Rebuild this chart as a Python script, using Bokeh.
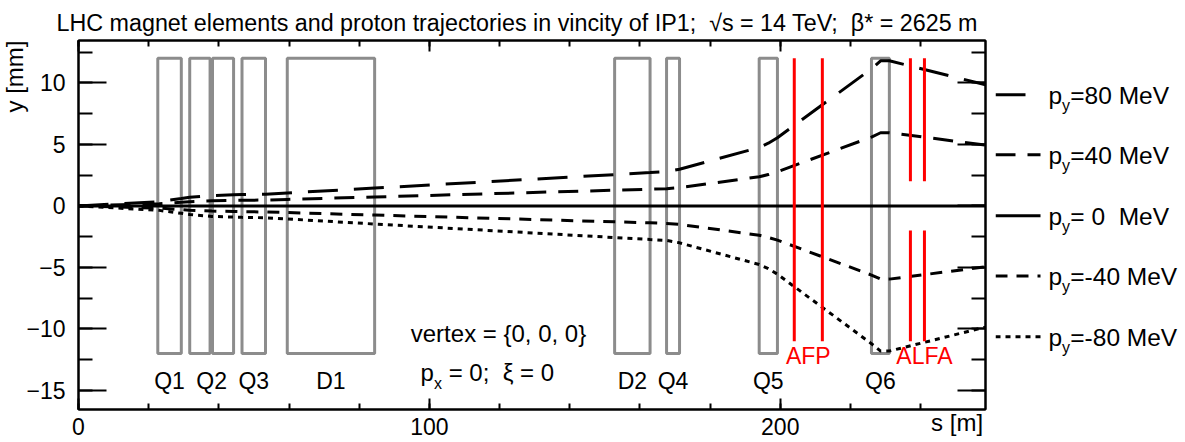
from bokeh.plotting import figure
from bokeh.models import (Range1d, SingleIntervalTicker, FixedTicker, LinearAxis, ColumnDataSource,
                          Title, CustomJSTickFormatter)
from bokeh.layouts import row
from bokeh.embed import file_html
from bokeh.resources import INLINE
from bokeh.core.properties import value

# ---------------- data ----------------
s_m = [0.0, 23.0, 29.3, 31.7, 38.0, 44.2, 46.6, 53.3, 59.5, 84.4, 152.8, 162.9,
       167.6, 171.3, 194.0, 196.6, 199.2, 226.0, 228.6, 231.1, 258.5]
y_p80 = [0.0, 0.35, 0.60, 0.70, 0.84, 0.90, 0.92, 0.95, 1.05, 1.45, 2.55, 2.71,
         2.79, 2.98, 4.75, 5.10, 5.55, 11.15, 11.80, 11.80, 9.85]
y_p40 = [0.0, 0.18, 0.30, 0.35, 0.42, 0.45, 0.46, 0.48, 0.53, 0.73, 1.28, 1.36,
         1.40, 1.49, 2.37, 2.55, 2.78, 5.60, 5.95, 5.95, 4.95]
y_p0 = [0.0, 0.0, 0.0, 0.0, 0.0, 0.0, 0.0, 0.0, 0.0, 0.0, 0.0, 0.0,
        0.0, 0.0, 0.0, 0.0, 0.0, 0.0, 0.0, 0.0, 0.0]
y_m40 = [0.0, -0.18, -0.30, -0.35, -0.42, -0.45, -0.47, -0.49, -0.54, -0.74, -1.29, -1.37,
         -1.42, -1.50, -2.38, -2.56, -2.78, -5.62, -5.95, -5.95, -4.95]
y_m80 = [0.0, -0.36, -0.60, -0.70, -0.85, -0.91, -0.93, -0.96, -1.06, -1.47, -2.57, -2.73,
         -2.80, -3.00, -4.76, -5.10, -5.55, -11.20, -11.80, -11.80, -9.85]

NB = "\u00a0"
legend_values = ["=80 MeV", "=40 MeV", "= 0 " + NB + "MeV", "=-40 MeV", "=-80 MeV"]

magnet_names = ["Q1", "Q2", "Q2", "Q3", "D1", "D2", "Q4", "Q5", "Q6"]
magnet_start = [22.6, 31.7, 38.2, 46.6, 59.5, 152.8, 167.6, 194.0, 226.0]
magnet_end = [29.3, 37.5, 44.2, 53.3, 84.4, 162.9, 171.3, 199.2, 231.1]
magnet_top = [12.0, 12.0, 12.0, 12.0, 12.0, 12.0, 12.0, 12.0, 12.0]
magnet_bottom = [-12.0, -12.0, -12.0, -12.0, -12.0, -12.0, -12.0, -12.0, -12.0]

station_names = ["AFP", "ALFA"]
det_s = [204.0, 212.0, 237.1, 241.1, 237.1, 241.1]
det_y0 = [-11.0, -11.0, 2.0, 2.0, -11.0, -11.0]
det_y1 = [12.0, 12.0, 12.0, 12.0, -2.0, -2.0]

x_ticks_interval = 100
y_ticks_interval = 5

TITLE = ("LHC magnet elements and proton trajectories in vincity of IP1; " + NB +
         "\u221as = 14 TeV; " + NB + "\u03b2* = 2625 m")
X_TITLE = "s [m]"
X_TITLE_AT = 250.4   # centre of the right-aligned x title, in s units
Y_TITLE = "y [mm]"

# ---------------- styles ----------------
FONT = "Liberation Sans"
GRAY = "#8c8c8c"
series = [(y_p80, "30 16"), (y_p40, "20 12"), (y_p0, "solid"), (y_m40, "12 9"), (y_m80, "5 5")]

H = 442
p = figure(width=995, height=H, x_range=Range1d(0, 258.5), y_range=Range1d(-16.55, 13.45),
           output_backend="svg", toolbar_location=None,
           x_axis_location=None, y_axis_location=None,
           min_border_left=78, min_border_right=10, min_border_top=40, min_border_bottom=33)
p.grid.visible = False
p.outline_line_color = "black"
p.outline_line_width = 2
p.background_fill_color = "white"
p.border_fill_color = "white"


def make_axis(ticker, tick_in, minor_in, labels, standoff=0):
    ax = LinearAxis(ticker=ticker,
                    major_tick_in=tick_in, major_tick_out=0,
                    minor_tick_in=minor_in, minor_tick_out=0,
                    axis_line_width=2, axis_line_color="black",
                    major_tick_line_width=2, minor_tick_line_width=2,
                    major_tick_line_color="black", minor_tick_line_color="black")
    if labels:
        ax.major_label_text_font = FONT
        ax.major_label_text_font_size = "23px"
        ax.major_label_text_color = "black"
        ax.major_label_standoff = standoff
    else:
        ax.formatter = CustomJSTickFormatter(code="return ''")
        ax.major_label_standoff = 0
    return ax


xt = lambda: SingleIntervalTicker(interval=x_ticks_interval, num_minor_ticks=5)
yt = lambda: SingleIntervalTicker(interval=y_ticks_interval, num_minor_ticks=2)
p.add_layout(make_axis(xt(), 11, 6, True, 8), "below")
p.add_layout(make_axis(xt(), 11, 6, False), "above")
p.add_layout(make_axis(yt(), 28, 14, True, 13), "left")
p.add_layout(make_axis(yt(), 28, 14, False), "right")

# x title: a label-only axis pulled up onto the tick-label row (right end of the axis)
ax_t = LinearAxis(ticker=FixedTicker(ticks=[X_TITLE_AT], minor_ticks=[]),
                  major_label_overrides={X_TITLE_AT: X_TITLE},
                  axis_line_color=None, major_tick_line_color=None, minor_tick_line_color=None,
                  major_tick_in=0, major_tick_out=0, minor_tick_in=0, minor_tick_out=0,
                  major_label_standoff=-29, major_label_text_font=FONT,
                  major_label_text_font_size="24px", major_label_text_color="black")
p.add_layout(ax_t, "below")

p.add_layout(Title(text=TITLE, align="left", offset=-22, standoff=10, text_font=FONT,
                   text_font_size="23.3px", text_font_style="normal", text_color="black"), "above")
p.add_layout(Title(text=Y_TITLE, align="right", standoff=-8, text_font=FONT,
                   text_font_size="24px", text_font_style="normal", text_color="black"), "left")

# magnets
p.quad(left=magnet_start, right=magnet_end, top=magnet_top, bottom=magnet_bottom,
       fill_color=None, line_color=GRAY, line_width=3)

# magnet labels at group centres
groups = {}
for n, a, b in zip(magnet_names, magnet_start, magnet_end):
    lo, hi = groups.get(n, (a, b))
    groups[n] = (min(lo, a), max(hi, b))
lab_src = ColumnDataSource(dict(x=[(v[0] + v[1]) / 2 for v in groups.values()],
                                text=list(groups.keys())))
p.text(x="x", y=-14.2, text="text", source=lab_src, text_font=value(FONT),
       text_font_size="23px", text_align="center", text_baseline="middle", text_color="black")

# trajectories
for ys, dash in series:
    p.line(s_m, ys, line_color="black", line_width=3, line_dash=dash)

# detector stations
p.segment(x0=det_s, y0=det_y0, x1=det_s, y1=det_y1, line_color="red", line_width=3)
st_src = ColumnDataSource(dict(x=[(det_s[0] + det_s[1]) / 2, (det_s[2] + det_s[3]) / 2 + 2.0],
                               text=station_names))
p.text(x="x", y=-12.2, text="text", source=st_src, text_font=value(FONT),
       text_font_size="23px", text_align="center", text_baseline="middle", text_color="red")

# annotation texts inside the frame
p.text(x=[94.7], y=[-10.4], text=["vertex = {0, 0, 0}"], text_font=value(FONT),
       text_font_size="24px", text_align="left", text_baseline="alphabetic")
p.text(x=[97.5], y=[-13.55], text=["p"], text_font=value(FONT),
       text_font_size="24px", text_align="left", text_baseline="alphabetic")
p.text(x=[101.3], y=[-14.4], text=["x"], text_font=value(FONT),
       text_font_size="16px", text_align="left", text_baseline="alphabetic")
p.text(x=[103.6], y=[-13.55], text=[NB + "= 0; " + NB + "\u03be = 0"], text_font=value(FONT),
       text_font_size="24px", text_align="left", text_baseline="alphabetic")

# ---------------- legend panel ----------------
LW = 190
lg = figure(width=LW, height=H, x_range=Range1d(0, LW), y_range=Range1d(H, 0),
            output_backend="svg", toolbar_location=None,
            x_axis_location=None, y_axis_location=None, min_border=0)
lg.grid.visible = False
lg.outline_line_color = None
line_y = [65, 137, 210, 282, 355]
for (ys, dash), ly in zip(series, line_y):
    lg.line([0, 45], [ly, ly], line_color="black", line_width=3, line_dash=dash)
leg_src = ColumnDataSource(dict(yb=[v + 1 for v in line_y], ys=[v + 13 for v in line_y],
                                text=legend_values, p=["p"] * 5, sub=["y"] * 5))
lg.text(x=53, y="yb", text="p", source=leg_src, text_font=value(FONT), text_font_size="24.5px",
        text_baseline="alphabetic")
lg.text(x=66.6, y="ys", text="sub", source=leg_src, text_font=value(FONT), text_font_size="16px",
        text_baseline="alphabetic")
lg.text(x=74.8, y="yb", text="text", source=leg_src, text_font=value(FONT), text_font_size="24.5px",
        text_baseline="alphabetic")

layout = row(p, lg, spacing=0)
open("out.html", "w").write(file_html(layout, INLINE))
